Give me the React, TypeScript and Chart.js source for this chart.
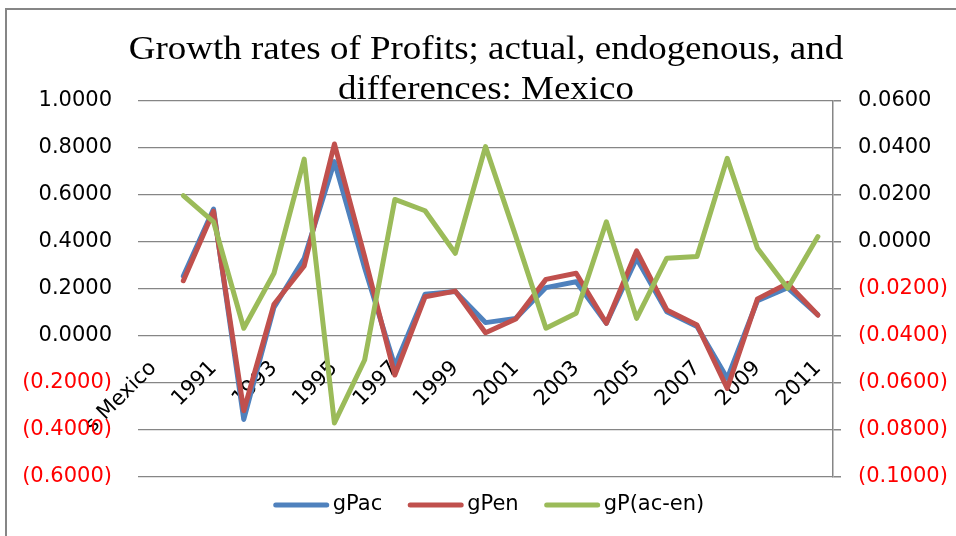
import React, { useEffect, useRef } from 'react';
import { Chart, registerables } from 'chart.js';

Chart.register(...registerables);

// ---------- data ----------
const categories = [
  's Mexico', '1990', '1991', '1992', '1993', '1994', '1995', '1996', '1997', '1998', '1999',
  '2000', '2001', '2002', '2003', '2004', '2005', '2006', '2007', '2008', '2009', '2010', '2011',
];

const gPac = [
  null, 0.255, 0.54, -0.355, 0.122, 0.331, 0.742, 0.29, -0.128, 0.178, 0.189,
  0.057, 0.075, 0.206, 0.231, 0.054, 0.33, 0.103, 0.04, -0.18, 0.15, 0.205, 0.09,
];

const gPen = [
  null, 0.235, 0.531, -0.318, 0.135, 0.298, 0.817, 0.338, -0.166, 0.167, 0.191,
  0.014, 0.072, 0.241, 0.267, 0.054, 0.362, 0.111, 0.047, -0.223, 0.158, 0.224, 0.089,
];

const gPacEn = [
  null, 0.0197, 0.0086, -0.0367, -0.0133, 0.0353, -0.077, -0.0502, 0.0181, 0.0133, -0.0048,
  0.0406, 0.0025, -0.0367, -0.0303, 0.0086, -0.0325, -0.0069, -0.0062, 0.0356, -0.0027, -0.0197, 0.0023,
];

const leftTicks = [-0.6, -0.4, -0.2, 0, 0.2, 0.4, 0.6, 0.8, 1.0];
const rightTicks = [-0.1, -0.08, -0.06, -0.04, -0.02, 0, 0.02, 0.04, 0.06];

const titleLines = ['Growth rates of Profits; actual, endogenous, and', 'differences: Mexico'];

const seriesLabels = ['gPac', 'gPen', 'gP(ac-en)'];
const seriesColors = ['#4F81BD', '#C0504D', '#9BBB59'];

// ---------- helpers ----------
const TICK_FONT = { family: '"DejaVu Sans"', size: 21 };
const GRID = '#868686';

const fmt = (v: number) => {
  const r = Math.round(v * 10000) / 10000;
  if (r < 0) return `(${Math.abs(r).toFixed(4)})`;
  return Math.abs(r).toFixed(4);
};
const tickColor = (c: any) => (c.tick && c.tick.value < -1e-9 ? '#FF0000' : '#000000');

const borderPlugin = {
  id: 'chartBorder',
  beforeDraw(chart: any) {
    const ctx = chart.ctx;
    ctx.save();
    ctx.strokeStyle = GRID;
    ctx.lineWidth = 2;
    ctx.beginPath();
    ctx.moveTo(6, chart.height);
    ctx.lineTo(6, 9);
    ctx.lineTo(chart.width, 9);
    ctx.stroke();
    ctx.restore();
  },
};

const titlePlugin = {
  id: 'excelTitle',
  afterDraw(chart: any) {
    const ctx = chart.ctx;
    ctx.save();
    ctx.font = '33px "Liberation Serif"';
    ctx.fillStyle = '#000';
    ctx.textAlign = 'center';
    ctx.textBaseline = 'alphabetic';
    const baselines = [59, 99];
    titleLines.forEach((line, i) => {
      ctx.save();
      ctx.translate(486, baselines[i]);
      ctx.scale(1.12, 1);
      ctx.fillText(line, 0, 0);
      ctx.restore();
    });
    ctx.restore();
  },
};

const legendPlugin = {
  id: 'excelLegend',
  afterDraw(chart: any) {
    const ctx = chart.ctx;
    ctx.save();
    ctx.font = '21px "DejaVu Sans"';
    ctx.textBaseline = 'middle';
    ctx.textAlign = 'left';
    const sample = 55;
    const gapText = 4;
    const gapItem = 26;
    const items = chart.data.datasets.map((d: any) => ({
      label: d.label,
      color: d.borderColor,
      w: ctx.measureText(d.label).width,
    }));
    const total = items.reduce((s: number, it: any) => s + sample + gapText + it.w, 0) + gapItem * (items.length - 1);
    let x = 489 - total / 2;
    const y = 505;
    items.forEach((it: any) => {
      ctx.strokeStyle = it.color;
      ctx.lineWidth = 5;
      ctx.lineCap = 'round';
      ctx.beginPath();
      ctx.moveTo(x + 2, y);
      ctx.lineTo(x + sample - 2, y);
      ctx.stroke();
      ctx.fillStyle = '#000';
      ctx.fillText(it.label, x + sample + gapText, y);
      x += sample + gapText + it.w + gapItem;
    });
    ctx.restore();
  },
};

export default function App() {
  const ref = useRef<HTMLCanvasElement | null>(null);

  useEffect(() => {
    if (!ref.current) return;
    const chart = new Chart(ref.current, {
      type: 'line',
      data: {
        labels: categories,
        datasets: [
          { label: seriesLabels[0], data: gPac, borderColor: seriesColors[0], backgroundColor: seriesColors[0], yAxisID: 'y', order: 2 },
          { label: seriesLabels[1], data: gPen, borderColor: seriesColors[1], backgroundColor: seriesColors[1], yAxisID: 'y', order: 1 },
          { label: seriesLabels[2], data: gPacEn, borderColor: seriesColors[2], backgroundColor: seriesColors[2], yAxisID: 'y1', order: 0 },
        ] as any,
      },
      options: {
        responsive: false,
        animation: false,
        devicePixelRatio: 1,
        layout: { padding: { top: 101, bottom: 59, left: 0, right: 0 } },
        elements: {
          point: { radius: 0, hoverRadius: 0 },
          line: { borderWidth: 5, tension: 0, borderJoinStyle: 'round', borderCapStyle: 'round', fill: false },
        },
        plugins: {
          legend: { display: false },
          title: { display: false },
          tooltip: { enabled: false },
        },
        scales: {
          x: {
            type: 'category',
            offset: true,
            position: { y: 0 } as any,
            grid: { display: false, drawTicks: false },
            border: { display: false },
            ticks: {
              autoSkip: false,
              maxRotation: 45,
              minRotation: 45,
              padding: 20,
              color: '#000',
              font: TICK_FONT,
              callback: (_v: any, i: number) => (i % 2 === 0 ? categories[i] : ''),
            },
          },
          y: {
            position: 'left',
            min: leftTicks[0],
            max: leftTicks[leftTicks.length - 1],
            afterBuildTicks: (s: any) => { s.ticks = leftTicks.map((v) => ({ value: v })); },
            afterFit: (s: any) => { s.width = 138; },
            grid: { color: GRID, lineWidth: 1.2, drawTicks: false },
            border: { display: false },
            ticks: { padding: 26, color: tickColor, font: TICK_FONT, callback: (v: any) => fmt(Number(v)) },
          },
          y1: {
            position: 'right',
            min: rightTicks[0],
            max: rightTicks[rightTicks.length - 1],
            afterBuildTicks: (s: any) => { s.ticks = rightTicks.map((v) => ({ value: v })); },
            afterFit: (s: any) => { s.width = 123; },
            grid: { drawOnChartArea: false, color: GRID, lineWidth: 1.5, tickLength: 8 },
            border: { display: true, color: GRID, width: 1.5 },
            ticks: { padding: 17, color: tickColor, font: TICK_FONT, callback: (v: any) => fmt(Number(v)) },
          },
        },
      } as any,
      plugins: [borderPlugin, titlePlugin, legendPlugin],
    });
    return () => chart.destroy();
  }, []);

  return (
    <div style={{ position: 'fixed', left: 0, top: 0, width: 956, height: 536, background: '#fff' }}>
      <canvas ref={ref} width={956} height={536} style={{ display: 'block', width: 956, height: 536 }} />
    </div>
  );
}
